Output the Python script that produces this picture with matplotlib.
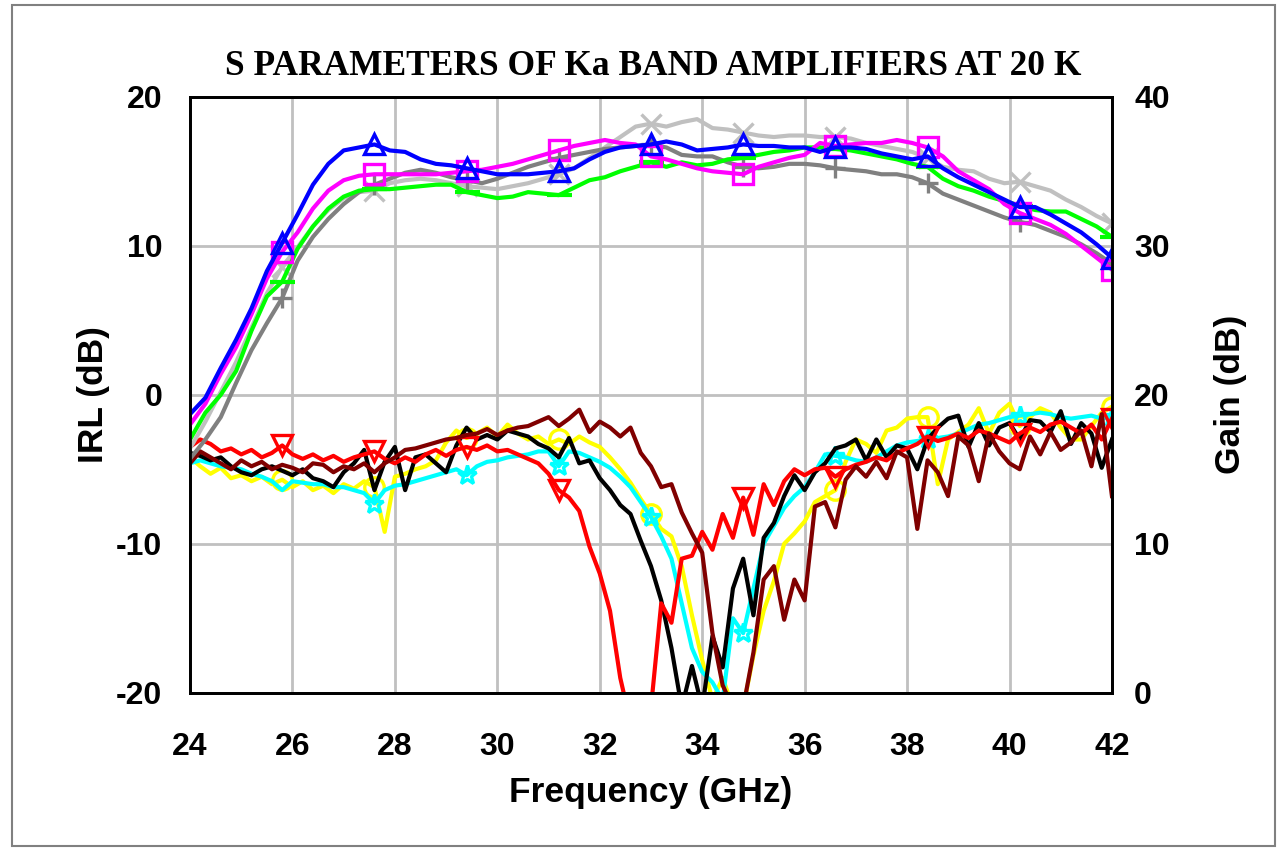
import matplotlib
matplotlib.use('Agg')
import matplotlib.pyplot as plt
from matplotlib.patches import Rectangle

# gain traces (right axis, dB), sampled every 0.3 GHz from 24 to 42 GHz
freq_gain = [24.0 + 0.3 * i for i in range(61)]

gain_blue = [18.7, 19.8, 21.8, 23.7, 25.8, 28.3, 30.2, 32.1, 34.1, 35.5,
             36.4, 36.6, 36.8, 36.4, 36.3, 35.8, 35.5, 35.4, 35.2, 35.0,
             34.8, 34.8, 34.8, 34.9, 35.0, 35.2, 35.8, 36.3, 36.6, 36.7,
             36.8, 37.0, 36.8, 36.4, 36.5, 36.6, 36.8, 36.7, 36.7, 36.6,
             36.6, 36.3, 36.6, 36.6, 36.5, 36.2, 36.0, 35.8, 36.0, 35.2,
             34.6, 34.1, 33.6, 33.1, 32.6, 32.6, 32.1, 31.5, 30.9, 30.1, 29.2]
gain_magenta = [18.0, 19.4, 21.4, 23.2, 25.4, 27.8, 29.6, 30.9, 32.5, 33.7,
                34.4, 34.7, 34.8, 34.8, 34.8, 34.8, 34.8, 34.9, 35.0, 35.1,
                35.3, 35.5, 35.8, 36.1, 36.4, 36.7, 36.9, 37.1, 36.9, 36.8,
                36.0, 35.8, 35.5, 35.2, 35.0, 34.9, 34.8, 35.3, 35.6, 35.9,
                36.1, 36.9, 36.7, 36.8, 36.9, 36.9, 37.1, 36.9, 36.6, 36.0,
                35.0, 34.4, 33.8, 32.8, 32.2, 31.8, 31.4, 30.8, 30.0, 29.2, 28.4]
gain_green = [17.0, 18.8, 20.0, 21.6, 24.3, 26.6, 27.6, 29.8, 31.3, 32.5,
              33.3, 33.7, 33.8, 33.8, 33.9, 34.0, 34.1, 34.1, 33.6, 33.4,
              33.2, 33.3, 33.6, 33.5, 33.4, 33.9, 34.4, 34.6, 35.0, 35.3,
              35.6, 35.3, 35.6, 35.4, 35.5, 35.8, 35.9, 36.1, 36.3, 36.4,
              36.6, 36.6, 36.5, 36.4, 36.2, 36.0, 35.8, 35.5, 35.3, 34.5,
              34.0, 33.7, 33.3, 33.0, 32.7, 32.4, 32.3, 32.3, 31.8, 31.3, 30.6]
gain_silver = [16.4, 18.2, 20.2, 22.2, 24.5, 26.8, 28.6, 29.9, 31.3, 32.4,
               33.2, 33.6, 33.7, 34.2, 34.4, 34.5, 34.4, 34.2, 34.0, 33.9,
               33.8, 34.0, 34.2, 34.5, 34.8, 35.2, 35.9, 36.6, 37.3, 38.0,
               38.2, 38.0, 38.3, 38.5, 37.9, 37.8, 37.6, 37.4, 37.3, 37.4,
               37.4, 37.3, 37.3, 37.2, 36.9, 36.7, 36.5, 36.3, 35.9, 35.3,
               35.1, 35.0, 34.5, 34.2, 34.3, 34.0, 33.7, 33.1, 32.6, 32.0, 31.5]
gain_gray = [15.7, 17.0, 18.5, 20.8, 23.0, 24.8, 26.5, 29.0, 30.6, 31.8,
             32.8, 33.6, 34.1, 34.5, 34.9, 35.1, 34.9, 34.6, 34.4, 34.2,
             34.5, 34.9, 35.3, 35.6, 35.9, 36.1, 36.3, 36.5, 36.6, 36.7,
             36.8, 36.6, 36.1, 36.0, 36.0, 35.6, 35.3, 35.2, 35.3, 35.5,
             35.5, 35.4, 35.2, 35.1, 35.0, 34.8, 34.8, 34.6, 34.2, 33.5,
             33.1, 32.7, 32.3, 31.9, 31.6, 31.4, 31.0, 30.6, 30.1, 29.5, 28.8]

# input return loss traces (left axis, dB), sampled every 0.2 GHz
freq_irl = [24.0 + 0.2 * i for i in range(91)]

irl_yellow = [-4.2, -4.8, -5.3, -4.9, -5.6, -5.4, -5.8, -5.5, -6.0, -5.7,
              -6.2, -5.8, -6.4, -6.1, -6.6, -6.0, -6.3, -5.8, -6.2, -9.2,
              -5.5, -5.3, -5.0, -4.8, -4.4, -3.2, -2.4, -2.9, -2.6, -2.2,
              -2.8, -2.0, -2.6, -3.0, -2.8, -3.3, -3.0, -3.3, -2.8, -3.2,
              -3.5, -4.2, -5.0, -5.9, -7.0, -8.0, -9.0, -9.5, -11.5, -14.8,
              -17.8, -20.5, -19.0, -21.0, -21.0, -17.5, -14.5, -12.5, -10.0, -9.3,
              -8.5, -7.2, -6.8, -6.4, -4.5, -3.0, -3.3, -3.9, -2.4, -2.2,
              -1.6, -1.5, -1.5, -6.0, -3.0, -2.5, -2.0, -0.9, -2.6, -1.2,
              -0.6, -2.1, -1.5, -0.9, -1.2, -2.2, -3.0, -3.0, -2.1, -1.2, -0.8]
irl_cyan = [-4.6, -4.4, -4.6, -4.8, -4.9, -5.0, -5.3, -5.5, -5.8, -6.4,
            -5.8, -5.9, -6.0, -6.0, -6.2, -6.2, -6.4, -6.6, -7.3, -6.4,
            -6.1, -6.0, -5.8, -5.6, -5.4, -5.2, -5.0, -5.4, -4.8, -4.5,
            -4.4, -4.2, -4.1, -4.0, -3.8, -3.8, -4.8, -3.8, -3.9, -4.2,
            -4.5, -4.9, -5.5, -6.2, -7.2, -8.2, -9.5, -11.0, -14.0, -17.0,
            -18.6, -19.3, -20.5, -15.0, -16.0, -13.0, -10.0, -8.8, -7.6, -6.8,
            -6.2, -5.2, -4.0, -4.1, -4.2, -4.4, -4.5, -4.2, -3.8, -3.4,
            -3.2, -3.1, -3.0, -2.9, -2.8, -2.6, -2.3, -2.0, -1.9, -1.7,
            -1.5, -1.4, -1.3, -1.2, -1.3, -1.5, -1.6, -1.5, -1.4, -1.6, -1.5]
irl_black = [-3.9, -4.1, -4.4, -4.2, -4.8, -5.2, -5.4, -5.0, -4.8, -5.1,
             -5.4, -5.0, -5.6, -5.8, -6.2, -5.2, -4.6, -3.7, -6.4, -4.5,
             -3.5, -6.4, -4.2, -4.0, -4.6, -5.2, -3.4, -2.2, -3.0, -2.7,
             -3.0, -2.4, -2.6, -2.8, -3.3, -3.6, -4.2, -2.9, -4.6, -4.4,
             -5.6, -6.4, -7.4, -8.0, -9.8, -11.5, -13.8, -17.0, -21.0, -18.2,
             -21.0, -16.2, -18.3, -13.0, -11.0, -14.8, -9.6, -8.6, -6.8, -5.4,
             -6.4, -5.2, -4.6, -3.6, -3.4, -3.0, -4.4, -3.0, -4.2, -3.4,
             -3.6, -5.0, -3.0, -2.2, -1.6, -1.4, -3.5, -1.9, -3.4, -2.2,
             -1.9, -3.0, -1.7, -1.8, -2.5, -1.1, -3.3, -1.9, -2.6, -4.9, -3.0]
irl_red = [-3.5, -3.0, -3.3, -3.8, -3.6, -4.0, -3.7, -4.2, -3.9, -3.4,
           -4.0, -4.3, -4.0, -4.4, -4.1, -4.5, -4.2, -4.0, -3.8, -4.3,
           -4.6, -4.2, -4.5, -4.0, -3.7, -4.1, -3.7, -3.5, -3.7, -3.4,
           -3.8, -3.7, -4.0, -4.3, -4.6, -5.3, -6.4, -6.9, -7.8, -10.2,
           -12.0, -14.5, -19.0, -22.0, -20.5, -21.0, -14.0, -15.3, -11.0, -10.8,
           -9.2, -10.4, -8.0, -9.6, -6.9, -9.4, -6.0, -7.4, -5.8, -5.0,
           -5.4, -5.0, -4.9, -5.5, -5.0, -4.7, -4.5, -4.2, -4.4, -3.9,
           -3.6, -3.3, -2.8, -3.1, -2.9, -2.6, -2.9, -2.4, -2.6, -2.9,
           -3.2, -2.6, -2.2, -2.5, -2.0, -1.8, -2.2, -2.6, -2.0, -3.0, -1.6]
irl_maroon = [-4.6, -3.8, -4.2, -4.6, -5.0, -4.4, -4.8, -4.5, -5.0, -4.7,
              -4.9, -5.2, -4.6, -4.7, -5.2, -4.8, -5.0, -4.6, -5.2, -4.6,
              -4.2, -3.7, -3.6, -3.4, -3.2, -3.0, -2.9, -2.7, -2.6, -2.3,
              -2.7, -2.4, -2.2, -2.1, -1.8, -1.5, -2.1, -1.6, -1.0, -2.5,
              -1.8, -2.2, -2.8, -2.2, -3.9, -4.8, -6.2, -6.0, -7.9, -9.3,
              -10.6, -16.0, -19.5, -21.0, -21.0, -17.3, -12.4, -11.5, -15.1, -12.4,
              -13.8, -7.5, -7.2, -8.9, -5.7, -4.8, -5.5, -4.5, -5.6, -3.8,
              -4.2, -9.0, -4.4, -5.2, -6.8, -2.8, -3.4, -5.8, -2.6, -3.8,
              -4.6, -5.0, -2.8, -4.0, -2.5, -3.7, -3.2, -2.4, -4.8, -1.3, -6.8]

x_ticks = [24, 26, 28, 30, 32, 34, 36, 38, 40, 42]
irl_ticks = [-20, -10, 0, 10, 20]
gain_ticks = [0, 10, 20, 30, 40]

fig = plt.figure(figsize=(12.84, 8.49), dpi=100)
fig.patches.append(Rectangle((0.009, 0.004), 0.984, 0.99, transform=fig.transFigure,
                             fill=False, edgecolor='#808080', linewidth=1.5))

ax = fig.add_axes([0.148, 0.184, 0.718, 0.702])
ax2 = ax.twinx()

lw = 3.0
mk = dict(markersize=14, markerfacecolor='none', markeredgewidth=2.4)

ax.plot(freq_irl, irl_yellow, color='#ffff00', lw=lw, marker='o', markevery=(9, 9), **mk)
ax.plot(freq_irl, irl_cyan, color='#00ffff', lw=lw, marker='*', markevery=(18, 9), **mk)
ax.plot(freq_irl, irl_black, color='black', lw=lw)
ax.plot(freq_irl, irl_red, color='#ff0000', lw=lw, marker='v', markevery=(9, 9), **mk)
ax.plot(freq_irl, irl_maroon, color='#800000', lw=lw)

ax2.plot(freq_gain, gain_silver, color='#c0c0c0', lw=lw, marker='x', markevery=(6, 6), **mk)
ax2.plot(freq_gain, gain_gray, color='#808080', lw=lw, marker='+', markevery=(6, 6), **mk)
ax2.plot(freq_gain, gain_green, color='#00ff00', lw=lw, marker='_', markevery=(6, 6),
         markersize=18, markeredgewidth=3)
ax2.plot(freq_gain, gain_magenta, color='#ff00ff', lw=lw, marker='s', markevery=(6, 6), **mk)
ax2.plot(freq_gain, gain_blue, color='#0000ff', lw=lw, marker='^', markevery=(6, 6), **mk)

ax.set_xlim(24, 42)
ax.set_ylim(-20, 20)
ax2.set_ylim(0, 40)
ax.set_xticks(x_ticks)
ax.set_yticks(irl_ticks)
ax2.set_yticks(gain_ticks)
ax.grid(True, color='#c0c0c0', linewidth=2)
ax.set_axisbelow(True)

tick_font = dict(family='Liberation Sans', weight='bold', size=23)
ax.set_xticklabels([str(t) for t in x_ticks], fontdict=tick_font)
ax.set_yticklabels([str(t) for t in irl_ticks], fontdict=tick_font)
ax2.set_yticklabels([str(t) for t in gain_ticks], fontdict=tick_font)
ax.tick_params(axis='x', length=0, pad=28)
ax.tick_params(axis='y', length=0, pad=20)
ax2.tick_params(axis='y', length=0, pad=16)

for a in (ax, ax2):
    for s in a.spines.values():
        s.set_linewidth(2)
        s.set_color('black')

label_font = dict(family='Liberation Sans', weight='bold', size=25.5)
ax.set_xlabel('Frequency (GHz)', fontdict=label_font, labelpad=10)
ax.set_ylabel('IRL (dB)', fontdict=label_font, labelpad=4)
ax2.set_ylabel('Gain (dB)', fontdict=label_font, labelpad=32)

fig.text(0.509, 0.922, 'S PARAMETERS OF Ka BAND AMPLIFIERS AT 20 K',
         ha='center', va='center', family='Liberation Serif', weight='bold', size=25.5)

fig.savefig('out.png', dpi=100)
